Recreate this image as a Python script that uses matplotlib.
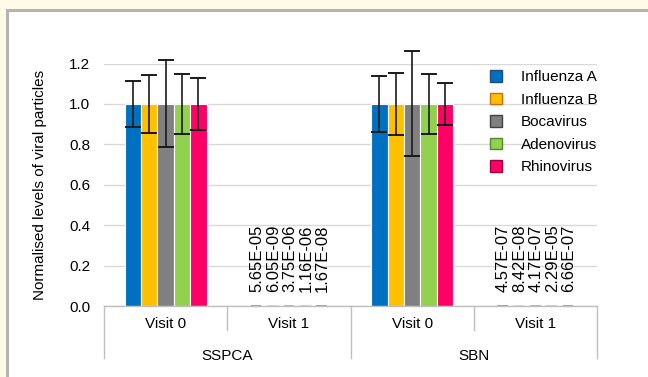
import matplotlib
matplotlib.use('Agg')
import matplotlib.pyplot as plt
import numpy as np
from matplotlib.patches import Patch, Rectangle
from matplotlib.transforms import blended_transform_factory

plt.rcParams['font.family'] = ['Liberation Sans', 'DejaVu Sans']

# data
viruses = ['Influenza A', 'Influenza B', 'Bocavirus', 'Adenovirus', 'Rhinovirus']
colors = ['#0070c0', '#ffc000', '#808080', '#92d050', '#ff0066']
edges = ['#1f4e79', '#d46a10', '#404040', '#4e8a2a', '#a0003a']
visits = ['Visit 0', 'Visit 1', 'Visit 0', 'Visit 1']
groups = ['SSPCA', 'SBN']

values = [
    [1.0, 5.65e-05, 1.0, 4.57e-07],
    [1.0, 6.05e-09, 1.0, 8.42e-08],
    [1.0, 3.75e-06, 1.0, 4.17e-07],
    [1.0, 1.16e-06, 1.0, 2.29e-05],
    [1.0, 1.67e-08, 1.0, 6.66e-07],
]
errors = [
    [0.115, 0.0, 0.14, 0.0],
    [0.145, 0.0, 0.153, 0.0],
    [0.215, 0.0, 0.26, 0.0],
    [0.15, 0.0, 0.148, 0.0],
    [0.13, 0.0, 0.105, 0.0],
]
labels = [
    [None, '5.65E-05', None, '4.57E-07'],
    [None, '6.05E-09', None, '8.42E-08'],
    [None, '3.75E-06', None, '4.17E-07'],
    [None, '1.16E-06', None, '2.29E-05'],
    [None, '1.67E-08', None, '6.66E-07'],
]

fig = plt.figure(figsize=(6.48, 3.77), dpi=100)
fig.patch.set_facecolor('#fffbe8')
# white panel with grey border
fig.patches.append(Rectangle((7 / 648, -0.1), 1.1, (377 - 10) / 377 + 0.1,
                             transform=fig.transFigure, facecolor='white',
                             edgecolor='#b4b4b4', linewidth=2.2, zorder=-5))

ax = fig.add_axes([104 / 648, 1 - 306 / 377, (597 - 104) / 648, (306 - 63.5) / 377])
ax.set_facecolor('none')

fs = 11
x = np.arange(len(visits))
w = 0.133
for i, name in enumerate(viruses):
    pos = x + (i - 2) * w
    for j in range(len(visits)):
        if values[i][j] > 0.5:
            ax.bar(pos[j], values[i][j], w, color=colors[i], edgecolor='white',
                   linewidth=0.8, zorder=2)
            ax.errorbar(pos[j], values[i][j], yerr=errors[i][j], fmt='none',
                        ecolor='#1a1a1a', elinewidth=1.2, capsize=5.5,
                        capthick=1.4, zorder=3, clip_on=False)
        else:
            ax.bar(pos[j], values[i][j], w * 0.65, color=colors[i],
                   edgecolor=colors[i], linewidth=1.3, alpha=0.6, zorder=2)
        if labels[i][j]:
            ax.annotate(labels[i][j], (pos[j], values[i][j]), xytext=(0.5, 10),
                        textcoords='offset points', rotation=90, ha='center',
                        va='bottom', fontsize=12)

ax.set_xlim(-0.5, len(visits) - 0.5)
ax.set_ylim(0, 1.2)
ax.set_yticks(np.arange(0, 1.21, 0.2))
ax.set_yticklabels(['%.1f' % v for v in np.arange(0, 1.21, 0.2)])
ax.yaxis.grid(True, color='#d9d9d9', linewidth=1.0, zorder=0)
ax.set_axisbelow(True)
for s in ['top', 'right', 'left']:
    ax.spines[s].set_visible(False)
ax.spines['bottom'].set_color('#bfbfbf')
ax.spines['bottom'].set_linewidth(1.0)
ax.tick_params(axis='y', length=0, pad=10, labelsize=fs)
ax.set_xticks(x)
ax.set_xticklabels(visits, fontsize=fs)
ax.tick_params(axis='x', length=0, pad=8)

trans = blended_transform_factory(ax.transData, ax.transAxes)
for b in [-0.5, 0.5, 1.5, 2.5, 3.5]:
    bottom = -0.215 if b in (-0.5, 1.5, 3.5) else -0.1
    ax.plot([b, b], [0, bottom], transform=trans, color='#bfbfbf',
            linewidth=1.0, clip_on=False)
for k, g in enumerate(groups):
    ax.text(2 * k + 0.5, -0.208, g, transform=trans, ha='center', va='center',
            fontsize=fs)

ax.set_ylabel('Normalised levels of viral particles', fontsize=fs, labelpad=16)

handles = [Patch(facecolor=c, edgecolor=e, linewidth=1.0) for c, e in zip(colors, edges)]
ax.legend(handles, viruses, loc='upper left', bbox_to_anchor=(0.755, 1.03),
          frameon=False, fontsize=fs, handlelength=0.8, handleheight=0.8,
          handletextpad=1.2, labelspacing=0.55)

fig.savefig('out.png', dpi=100, facecolor=fig.get_facecolor())
